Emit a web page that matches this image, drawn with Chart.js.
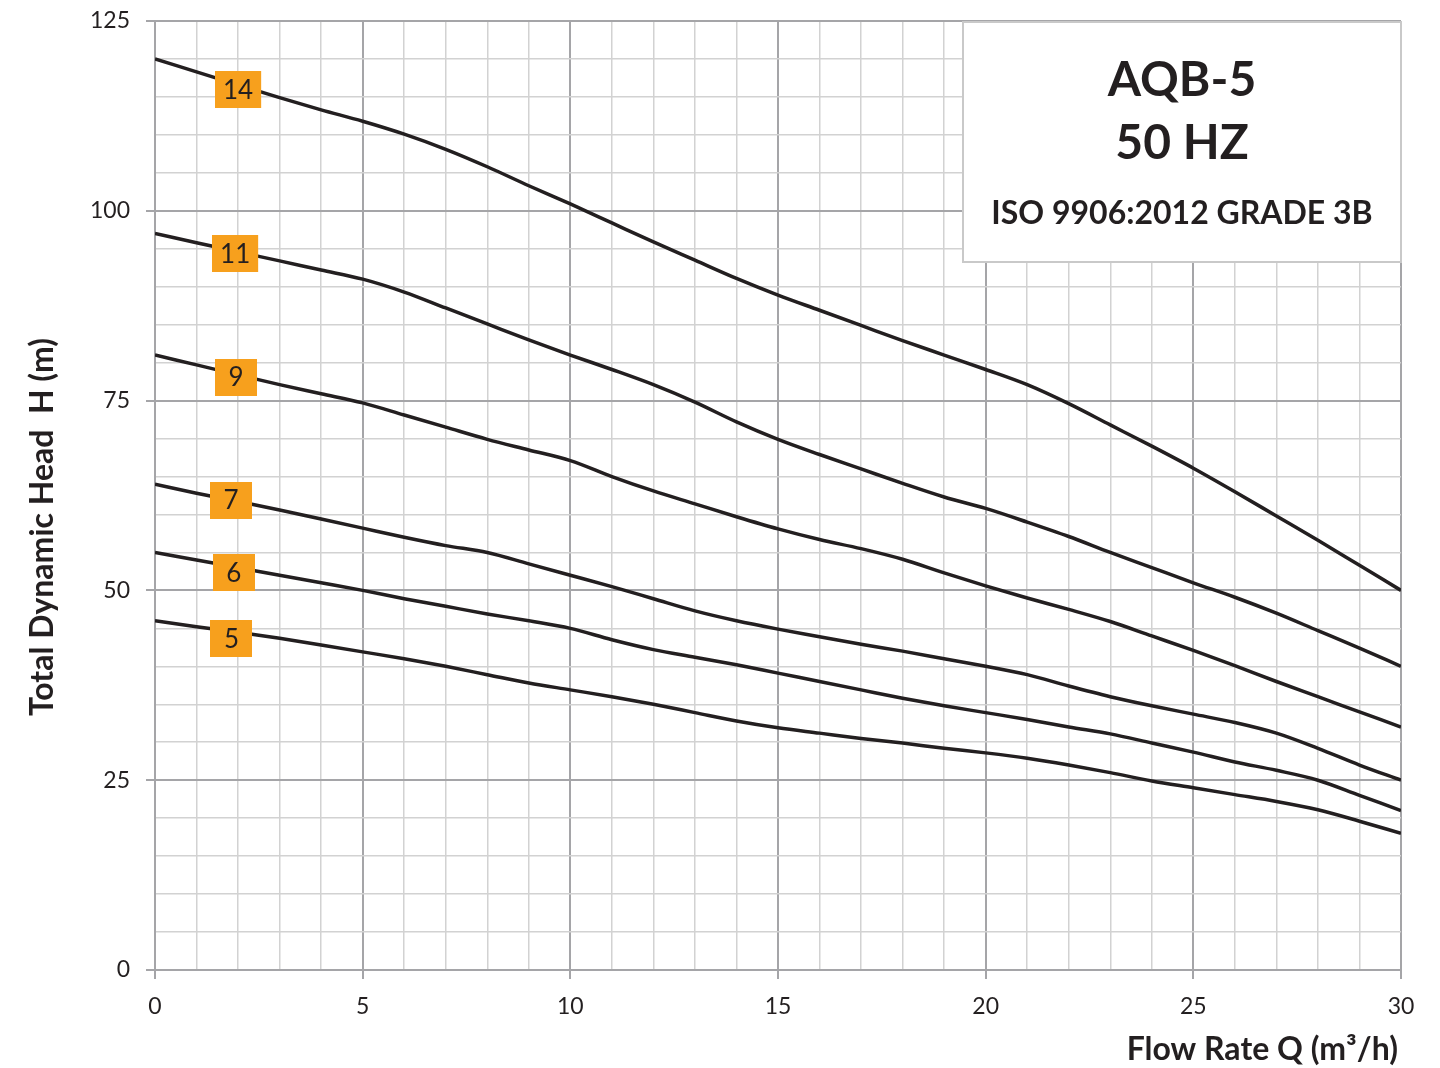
<!DOCTYPE html>
<html>
<head>
<meta charset="utf-8">
<script src="https://cdn.jsdelivr.net/npm/chart.js@4.4.1/dist/chart.umd.min.js"></script>
<style>
  html, body { margin: 0; padding: 0; background: #fff; }
  #wrap { width: 1440px; height: 1068px; position: relative; }
</style>
</head>
<body>
<div id="wrap"><canvas id="pumpChart" width="1440" height="1068"></canvas></div>
<script>
(function() {
    "use strict";

    // flow rate Q (m3/h)
    var flowQ = [0, 1, 2, 3, 4, 5, 6, 7, 8, 9, 10, 11, 12, 13, 14, 15, 16, 17, 18, 19, 20, 21, 22, 23, 24, 25, 26, 27, 28, 29, 30];

    // total dynamic head H (m) per stage count
    var head14 = [120, 118.3, 116.6, 114.9, 113.3, 111.8, 110.1, 108.1, 105.8, 103.3, 100.9, 98.4, 95.9, 93.5, 91.1, 88.9, 86.9, 84.9, 82.9, 81, 79.1, 77.1, 74.6, 71.8, 69, 66.1, 63, 59.8, 56.6, 53.3, 50];
    var head11 = [97, 95.8, 94.6, 93.4, 92.2, 91, 89.3, 87.2, 85.1, 83, 81, 79.1, 77.1, 74.8, 72.2, 69.9, 67.9, 66, 64.1, 62.3, 60.8, 59, 57.1, 55, 53, 51, 49.1, 47, 44.7, 42.4, 40];
    var head9 = [81, 79.7, 78.4, 77.1, 75.9, 74.7, 73.1, 71.5, 69.9, 68.5, 67.1, 65, 63.1, 61.4, 59.7, 58.1, 56.7, 55.5, 54.1, 52.3, 50.6, 49, 47.5, 45.9, 44, 42.1, 40.1, 38, 36, 34, 32];
    var head7 = [64, 62.8, 61.7, 60.6, 59.4, 58.2, 57, 55.9, 55, 53.5, 52, 50.5, 48.9, 47.3, 46, 44.9, 43.9, 42.9, 42, 41, 40, 38.9, 37.4, 36, 34.8, 33.7, 32.6, 31.2, 29.2, 27, 25];
    var head6 = [55, 54, 53, 52, 51, 50, 48.9, 47.9, 46.9, 46, 45, 43.5, 42.2, 41.2, 40.2, 39.1, 38, 36.9, 35.8, 34.8, 33.9, 33, 32, 31.1, 29.9, 28.7, 27.4, 26.3, 25, 23, 21];
    var head5 = [46, 45.2, 44.5, 43.7, 42.8, 41.9, 41, 40, 38.9, 37.8, 36.9, 36, 35, 33.9, 32.8, 31.9, 31.2, 30.5, 29.9, 29.2, 28.6, 27.9, 27, 26, 24.9, 24, 23.1, 22.2, 21.1, 19.6, 18];

    var stageNames = ["14", "11", "9", "7", "6", "5"];
    // where the orange stage tags sit (Q, H)
    var tagQ = [2.0, 1.93, 1.95, 1.83, 1.9, 1.84];
    var tagH = [116.0, 94.4, 78.1, 61.9, 52.3, 43.6];

    var titleLines = ["AQB-5", "50 HZ", "ISO 9906:2012 GRADE 3B"];

    var FONT = "Lato, 'Open Sans', sans-serif";
    var INK = "#231f20";

    function pts(ys) {
        return flowQ.map(function(q, i) { return { x: q, y: ys[i] }; });
    }
    var allHeads = [head14, head11, head9, head7, head6, head5];
    var datasets = allHeads.map(function(h, i) {
        return {
            label: stageNames[i],
            data: pts(h),
            borderColor: INK,
            borderWidth: 3.5,
            pointRadius: 0,
            cubicInterpolationMode: 'monotone',
            fill: false
        };
    });

    var overlay = {
        id: 'overlay',
        afterDatasetsDraw: function(chart) {
            var c = chart.ctx, a = chart.chartArea;
            var xs = chart.scales.x, ys = chart.scales.y;
            c.save();

            // stage tags
            c.font = "26px " + FONT;
            c.textAlign = 'center';
            c.textBaseline = 'middle';
            stageNames.forEach(function(n, i) {
                var px = xs.getPixelForValue(tagQ[i]);
                var py = ys.getPixelForValue(tagH[i]);
                var w = Math.max(42, c.measureText(n).width + 16);
                var h = 37;
                c.fillStyle = "#f7a01d";
                c.fillRect(Math.round(px - w / 2), Math.round(py - h / 2), w, h);
                c.fillStyle = INK;
                c.fillText(n, px, py + 1);
            });

            // info box
            var bx = 963, by = a.top + 1, bw = a.right - 963, bh = 240;
            c.fillStyle = "#ffffff";
            c.fillRect(bx, by, bw, bh);
            c.strokeStyle = "#c9c9c9";
            c.lineWidth = 2;
            c.strokeRect(bx, by, bw, bh);
            var cx = bx + bw / 2;
            c.fillStyle = INK;
            c.textBaseline = 'alphabetic';
            c.font = "bold 48px " + FONT;
            c.fillText(titleLines[0], cx, 96);
            c.fillText(titleLines[1], cx, 159);
            c.font = "bold 32px " + FONT;
            c.fillText(titleLines[2], cx, 224);

            // axis titles
            c.font = "bold 32px " + FONT;
            c.textAlign = 'right';
            c.fillText("Flow Rate Q (m\u00B3/h)", 1398, 1060);
            c.translate(53, 527);
            c.rotate(-Math.PI / 2);
            c.textAlign = 'center';
            c.fillText("Total Dynamic Head  H (m)", 0, 0);
            c.restore();
        }
    };

    function major(step) {
        return function(ctx) { return ctx.tick && ctx.tick.value % step === 0; };
    }
    var xMajor = major(5), yMajor = major(25);

    var ctx = document.getElementById("pumpChart");
    var myChart = new Chart(ctx, {
        type: 'line',
        data: { datasets: datasets },
        options: {
            responsive: false,
            animation: false,
            devicePixelRatio: 1,
            layout: { padding: { left: 0, right: 39, top: 21, bottom: 0 } },
            plugins: {
                legend: { display: false },
                tooltip: { enabled: false }
            },
            scales: {
                x: {
                    type: 'linear',
                    min: 0,
                    max: 30,
                    afterFit: function(s) { s.height = 98; },
                    ticks: {
                        stepSize: 1,
                        autoSkip: false,
                        maxRotation: 0,
                        padding: 14,
                        color: INK,
                        font: { family: FONT, size: 23 },
                        callback: function(v) { return v % 5 === 0 ? v : ''; }
                    },
                    grid: {
                        color: function(c) { return xMajor(c) ? '#a5a5a8' : '#d2d2d2'; },
                        lineWidth: function(c) { return xMajor(c) ? 2 : 1.5; },
                        tickColor: function(c) { return xMajor(c) ? '#a5a5a8' : 'rgba(0,0,0,0)'; },
                        tickLength: 9
                    },
                    border: { color: '#a5a5a8', width: 2 }
                },
                y: {
                    type: 'linear',
                    min: 0,
                    max: 125,
                    afterFit: function(s) {
                        s.width = 155;
                        s.paddingTop = 0;
                        s.paddingBottom = 0;
                    },
                    ticks: {
                        stepSize: 5,
                        autoSkip: false,
                        padding: 16,
                        color: INK,
                        font: { family: FONT, size: 23 },
                        callback: function(v) { return v % 25 === 0 ? v : ''; }
                    },
                    grid: {
                        color: function(c) { return yMajor(c) ? '#a5a5a8' : '#d2d2d2'; },
                        lineWidth: function(c) { return yMajor(c) ? 2 : 1.5; },
                        tickColor: function(c) { return yMajor(c) ? '#a5a5a8' : 'rgba(0,0,0,0)'; },
                        tickLength: 9
                    },
                    border: { color: '#a5a5a8', width: 2 }
                }
            }
        },
        plugins: [overlay]
    });
})();
</script>
</body>
</html>
